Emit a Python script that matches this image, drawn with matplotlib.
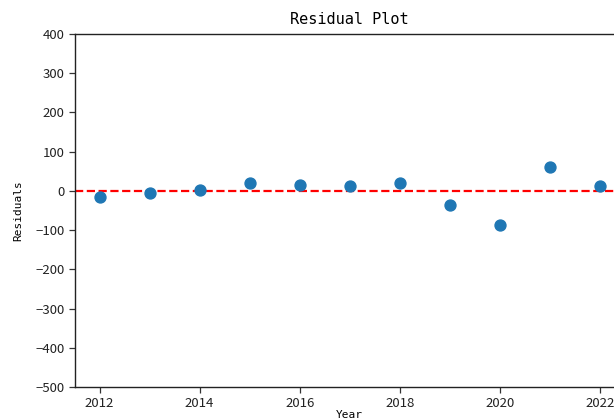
import matplotlib
matplotlib.use("Agg")
import matplotlib.pyplot as plt

# Residuals of the yearly model
years = [2012, 2013, 2014, 2015, 2016, 2017, 2018, 2019, 2020, 2021, 2022]
residuals = [-16, -5, 3, 19, 16, 13, 20, -36, -87, 60, 12]

x_ticks = [2012, 2014, 2016, 2018, 2020, 2022]
y_ticks = [-500, -400, -300, -200, -100, 0, 100, 200, 300, 400]

fig = plt.figure(figsize=(6.14, 4.19), dpi=100)
ax = fig.add_axes([74.5 / 614, 32 / 419, 550.5 / 614, 353 / 419])

ax.scatter(years, residuals, s=62, color="#1f77b4", zorder=3)
ax.axhline(0, color="red", linestyle="--", linewidth=1.6, zorder=2)

ax.set_xlim(2011.5, 2022.5)
ax.set_ylim(-500, 400)
ax.set_xticks(x_ticks)
ax.set_yticks(y_ticks)

tick_family = ["Noto Sans CJK SC", "DejaVu Sans"]
for lab in ax.get_xticklabels() + ax.get_yticklabels():
    lab.set_fontfamily(tick_family)
    lab.set_fontsize(9.5)
ax.tick_params(axis="both", direction="out", length=4, width=0.9,
               color="#333333", labelcolor="#222222", pad=3)

ax.set_title("Residual Plot", family="DejaVu Sans Mono", fontsize=11, pad=7)
ax.set_xlabel("Year", family="DejaVu Sans Mono", fontsize=8, labelpad=0)
ax.set_ylabel("Residuals", family="DejaVu Sans Mono", fontsize=8, labelpad=9)

for sp in ax.spines.values():
    sp.set_linewidth(1.0)
    sp.set_color("#222222")

fig.savefig("out.png", dpi=100)
